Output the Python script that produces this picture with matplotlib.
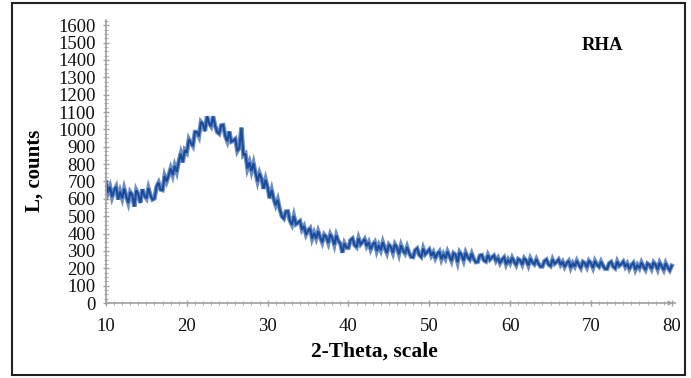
import numpy as np
import matplotlib
matplotlib.use("Agg")
import matplotlib.pyplot as plt
from matplotlib.patches import Rectangle
from matplotlib.ticker import MultipleLocator

# 2-theta start / step of the scan, counts (one row = 2 degrees)
theta_start = 10.0
theta_step = 0.25
counts = [
    695, 637, 669, 611, 648, 670, 596, 642,
    603, 659, 615, 577, 639, 622, 555, 649,
    625, 577, 655, 618, 602, 661, 621, 596,
    602, 670, 693, 653, 650, 732, 700, 735,
    775, 737, 790, 755, 815, 860, 810, 880,
    865, 943, 921, 904, 985, 985, 960, 1043,
    1030, 990, 1075, 1036, 1018, 1075, 1022, 985,
    975, 1023, 1025, 962, 932, 988, 929, 935,
    945, 875, 895, 1010, 850, 860, 775, 810,
    760, 805, 750, 700, 747, 715, 658, 710,
    665, 604, 651, 598, 563, 595, 540, 500,
    487, 527, 528, 474, 451, 502, 454, 463,
    472, 423, 442, 394, 417, 430, 371, 404,
    372, 413, 379, 349, 394, 380, 346, 396,
    374, 335, 389, 357, 340, 290, 343, 319,
    318, 362, 372, 334, 322, 373, 338, 352,
    368, 328, 350, 309, 336, 351, 300, 333,
    304, 350, 316, 288, 336, 322, 289, 338,
    319, 281, 332, 302, 285, 323, 289, 266,
    264, 304, 314, 278, 266, 314, 281, 295,
    308, 273, 293, 258, 282, 297, 252, 282,
    257, 296, 270, 242, 287, 278, 235, 293,
    276, 244, 290, 264, 250, 284, 254, 235,
    237, 273, 276, 246, 239, 276, 250, 263,
    273, 242, 260, 229, 250, 263, 223, 250,
    229, 261, 238, 218, 253, 245, 221, 258,
    244, 216, 257, 234, 223, 252, 227, 210,
    210, 242, 250, 222, 213, 251, 226, 236,
    250, 220, 238, 208, 229, 243, 203, 230,
    211, 243, 220, 201, 237, 229, 206, 243,
    229, 202, 242, 220, 209, 238, 214, 197,
    197, 229, 237, 210, 200, 239, 214, 224,
    238, 208, 227, 196, 218, 231, 192, 219,
    200, 233, 209, 191, 227, 219, 196, 234,
    220, 193, 233, 211, 190, 229, 205, 188,
    215,
]
theta = theta_start + theta_step * np.arange(len(counts))

x_ticks = [10, 20, 30, 40, 50, 60, 70, 80]
y_ticks = list(range(0, 1601, 100))

plt.rcParams['font.family'] = ['Liberation Serif', 'DejaVu Serif']

fig = plt.figure(figsize=(6.91, 3.78), dpi=100)
ax = fig.add_axes([106 / 691, 1 - 303 / 378, (675 - 106) / 691, (303 - 20) / 378])

# wide pale pass + narrower dark pass gives the dense noisy band look
ax.plot(theta, counts, color='#3b67b0', linewidth=3.2, alpha=0.75, solid_joinstyle='miter')
ax.plot(theta, counts, color='#1a4c9c', linewidth=1.5, solid_joinstyle='miter')

ax.set_xlim(10, 80.4)
ax.set_ylim(0, 1630)
ax.set_xticks(x_ticks)
ax.set_yticks(y_ticks)
ax.xaxis.set_minor_locator(MultipleLocator(1))
ax.yaxis.set_minor_locator(MultipleLocator(25))

for s in ['top', 'right']:
    ax.spines[s].set_visible(False)
for s in ['left', 'bottom']:
    ax.spines[s].set_color('#a0a0a0')
    ax.spines[s].set_linewidth(1.2)

ax.tick_params(which='major', direction='inout', length=5, width=1, color='#a0a0a0',
               labelsize=13.5, labelcolor='#111111')
ax.tick_params(which='minor', direction='inout', length=3, width=0.8, color='#b0b0b0')
ax.tick_params(axis='y', pad=5)
ax.tick_params(axis='x', pad=8)

# arrow head at end of x axis
ax.annotate('', xy=(80.5, 0), xytext=(79.6, 0), xycoords='data',
            arrowprops=dict(arrowstyle='-|>', color='#a0a0a0', lw=1, mutation_scale=6),
            annotation_clip=False)

fig.text(374 / 691, 1 - 352 / 378, '2-Theta, scale', ha='center', va='center',
         fontsize=15.5, fontweight='bold')
fig.text(35 / 691, 1 - 171 / 378, 'L, counts', ha='center', va='center',
         rotation=90, fontsize=15, fontweight='bold')
fig.text(602 / 691, 1 - 45 / 378, 'RHA', ha='center', va='center',
         fontsize=13.5, fontweight='bold')

fig.patches.append(Rectangle((12 / 691, 1 - 375 / 378), (685 - 12) / 691, (375 - 3) / 378,
                             transform=fig.transFigure, fill=False,
                             edgecolor='#222222', linewidth=1.5))

fig.savefig('out.png', dpi=100)
